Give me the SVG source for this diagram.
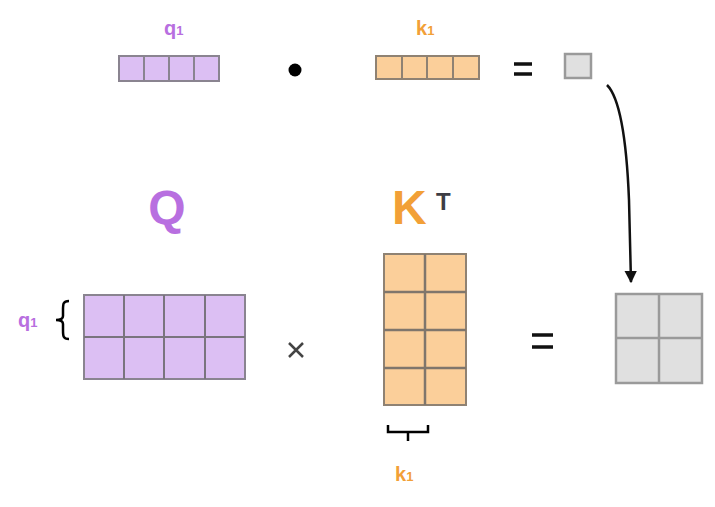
<svg xmlns="http://www.w3.org/2000/svg" width="715" height="507" viewBox="0 0 715 507">
<style>
.pur{fill:#dcbff3;stroke:#8a8490;stroke-width:2}
.org{fill:#fbcf9a;stroke:#8f8273;stroke-width:2}
.gry{fill:#e0e0e0;stroke:#9a9a9a;stroke-width:2.5}
.ln{stroke-width:2}
.lp{fill:#b86fe0;font-family:"Liberation Sans",Arial,sans-serif;font-weight:bold}
.lo{fill:#f2a037;font-family:"Liberation Sans",Arial,sans-serif;font-weight:bold}
.blk{fill:#222;font-family:"Liberation Sans",Arial,sans-serif;font-weight:bold}
</style>
<defs>
<marker id="ah" viewBox="0 0 10 10" refX="9" refY="5" markerWidth="5" markerHeight="5" orient="auto">
<path d="M0,0 L10,5 L0,10 z" fill="#111"/>
</marker>
</defs>
<rect width="715" height="507" fill="#fff"/>

<g id="q1row">
<text class="lp" x="164" y="35" font-size="20">q<tspan font-size="13">1</tspan></text>
<rect class="pur" x="119" y="56" width="100" height="25"/>
<path d="M144,56V81M169,56V81M194,56V81" stroke="#8a8490" stroke-width="2"/>
</g>
<g id="dot"><circle cx="295" cy="70" r="6.5" fill="#000"/></g>
<g id="k1row">
<text class="lo" x="416" y="35" font-size="20">k<tspan font-size="13">1</tspan></text>
<rect class="org" x="376" y="56" width="103" height="23"/>
<path d="M402,56V79M427,56V79M453,56V79" stroke="#8f8273" stroke-width="2"/>
</g>
<g id="eq1"><path d="M514,64H532M514,74H532" stroke="#111" stroke-width="3.5"/></g>
<g id="cell"><rect class="gry" x="565" y="54" width="26" height="24" stroke-width="2"/></g>

<g id="Q">
<text class="lp" x="167" y="224" font-size="48" text-anchor="middle" fill="#b060d8">Q</text>
<rect class="pur" x="84" y="295" width="161" height="84"/>
<path d="M124,295V379M164,295V379M205,295V379M84,337H245" stroke="#7a747e" stroke-width="2"/>
<text class="lp" x="18" y="327" font-size="20">q<tspan font-size="13">1</tspan></text>
<path d="M69,301 C63,301 63,304 63,310 L63,316 C63,319 61,320 56,320 C61,320 63,321 63,324 L63,330 C63,336 63,339 69,339" fill="none" stroke="#000" stroke-width="2.5"/>
</g>

<g id="times"><path d="M289,343L303,357M303,343L289,357" stroke="#444" stroke-width="2.5"/></g>

<g id="KT">
<text class="lo" x="392" y="224" font-size="48">K</text>
<text x="436" y="210" font-size="24" font-family="'Liberation Sans',Arial,sans-serif" font-weight="bold" fill="#3d3d44">T</text>
<rect class="org" x="384" y="254" width="82" height="151"/>
<path d="M425,254V405M384,292H466M384,330H466M384,368H466" stroke="#7f766c" stroke-width="2.5"/>
<path d="M388,425 L388,432 L428,432 L428,425 M408,432 L408,441" fill="none" stroke="#000" stroke-width="2.5"/>
<text class="lo" x="395" y="481" font-size="20">k<tspan font-size="13">1</tspan></text>
</g>

<g id="eq2"><path d="M532,335H553M532,347H553" stroke="#111" stroke-width="3.5"/></g>

<g id="result">
<rect class="gry" x="616" y="294" width="86" height="89"/>
<path d="M659,294V383M616,338H702" stroke="#9a9a9a" stroke-width="2.5"/>
</g>

<g id="connectors">
<path d="M607,85 C622,100 627,150 629,200 L631,282" fill="none" stroke="#111" stroke-width="2.5" marker-end="url(#ah)"/>
</g>
</svg>
